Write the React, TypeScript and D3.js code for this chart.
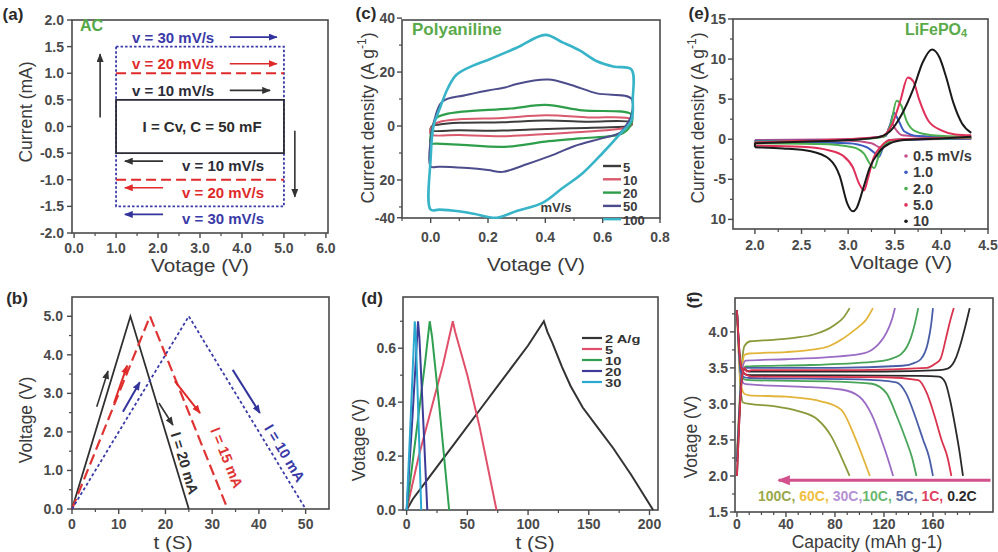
import React from "react";
import * as d3 from "d3";

type Pt = [number, number];

const FONT = "'Liberation Sans', Arial, Helvetica, sans-serif";
const AX = "#4a4a4a";
const TXT = "#3a3a3a";

/* ---------- (a) AC capacitor CV ---------- */
const aXTicks = [0, 1, 2, 3, 4, 5, 6];
const aXLabels = ["0.0", "1.0", "2.0", "3.0", "4.0", "5.0", "6.0"];
const aYTicks = [2, 1.5, 1, 0.5, 0, -0.5, -1, -1.5, -2];
const aYLabels = ["2.0", "1.5", "1.0", "0.5", "0.0", "-0.5", "-1.0", "-1.5", "-2.0"];
const aSweep = [1.0, 5.0];
const aScanRates = ["10", "20", "30"];
const aCurrents = [0.5, 1.0, 1.5];

/* ---------- (b) AC capacitor GCD ---------- */
const bXTicks = [0, 10, 20, 30, 40, 50];
const bYTicks = [0, 1, 2, 3, 4, 5];
const bYLabels = ["0.0", "1.0", "2.0", "3.0", "4.0", "5.0"];
const bCurrents = ["20", "15", "10"];
const bPeakTimes = [12.5, 16.7, 25];
const bEndTimes = [25, 33.3, 50];
const bVmax = 5;

/* ---------- (c) Polyaniline CV ---------- */
const cXTicks = [0, 0.2, 0.4, 0.6, 0.8];
const cXLabels = ["0.0", "0.2", "0.4", "0.6", "0.8"];
const cYTicks = [40, 20, 0, -20, -34];
const cYLabels = ["40", "20", "0", "20", "-40"];
const cRates = ["5", "10", "20", "50", "100"];
const cCV5: Pt[] = [[0.0, -1.5], [0.005, 0], [0.03, 0.6], [0.1, 1.2], [0.25, 1.4], [0.4, 2.0], [0.55, 1.6], [0.7, 1.3], [0.7, 0.2], [0.68, -0.2], [0.5, -0.8], [0.35, -1.3], [0.25, -1.7], [0.1, -1.6]];
const cCV10: Pt[] = [[0.0, -3], [0.005, 0], [0.03, 1.5], [0.1, 2.5], [0.25, 3], [0.4, 4], [0.55, 3.2], [0.7, 2.5], [0.7, 0.5], [0.67, -0.8], [0.55, -2], [0.4, -3], [0.25, -3.8], [0.1, -3.3]];
const cCV20: Pt[] = [[0.0, -6.4], [0.005, -1], [0.02, 3], [0.05, 4.3], [0.11, 5.3], [0.28, 6.5], [0.4, 7.8], [0.53, 5.8], [0.7, 4.3], [0.7, 1], [0.67, -2.7], [0.52, -4.6], [0.4, -5.8], [0.26, -7.7], [0.11, -7], [0.02, -6.5]];
const cCV50: Pt[] = [[0.0, -15], [0.0, -5], [0.01, 1], [0.04, 9], [0.12, 11.4], [0.2, 13.2], [0.26, 14.3], [0.3, 15.6], [0.41, 17.2], [0.49, 15.2], [0.58, 12.1], [0.7, 10.2], [0.7, 4], [0.68, 0], [0.66, -2.5], [0.6, -4.5], [0.5, -7.5], [0.42, -11], [0.34, -14], [0.25, -17], [0.2, -16.3], [0.13, -15.6], [0.03, -15.1]];
const cCV100: Pt[] = [[0.0, -31], [0.0, -12], [0.01, 0], [0.03, 6], [0.06, 14], [0.09, 19], [0.15, 22.5], [0.2, 24.5], [0.3, 29], [0.4, 33.8], [0.46, 31], [0.52, 28], [0.58, 24], [0.64, 22], [0.7, 21], [0.705, 10], [0.7, 2], [0.66, -3], [0.6, -10], [0.53, -17.5], [0.46, -23], [0.39, -28.5], [0.3, -31.5], [0.23, -34], [0.15, -32.5], [0.09, -31.5], [0.03, -31]];

/* ---------- (d) Polyaniline GCD ---------- */
const dXTicks = [0, 50, 100, 150, 200];
const dYTicks = [0, 0.2, 0.4, 0.6];
const dYLabels = ["0.0", "0.2", "0.4", "0.6"];
const dRates = ["2 A/g", "5", "10", "20", "30"];
const dGCD2: Pt[] = [[0, 0], [5, 0.04], [20, 0.13], [40, 0.25], [60, 0.37], [80, 0.49], [100, 0.61], [113, 0.7], [116, 0.66], [120, 0.62], [128, 0.53], [135, 0.46], [145, 0.38], [160, 0.29], [170, 0.23], [185, 0.13], [203, 0]];
const dGCD5: Pt[] = [[0, 0], [3, 0.06], [10, 0.2], [20, 0.37], [30, 0.54], [38, 0.7], [40, 0.66], [50, 0.5], [60, 0.31], [74, 0]];
const dGCD10: Pt[] = [[0, 0], [5, 0.18], [10, 0.36], [15, 0.54], [19, 0.7], [21, 0.64], [27, 0.38], [35, 0]];
const dGCD20: Pt[] = [[0, 0], [5, 0.36], [9.4, 0.7], [10.5, 0.64], [14, 0.3], [17, 0]];
const dGCD30: Pt[] = [[0, 0], [3.5, 0.36], [6.7, 0.7], [7.6, 0.64], [10, 0.3], [12, 0]];

/* ---------- (e) LiFePO4 CV ---------- */
const eXTicks = [2.0, 2.5, 3.0, 3.5, 4.0, 4.5];
const eXLabels = ["2.0", "2.5", "3.0", "3.5", "4.0", "4.5"];
const eYTicks = [15, 10, 5, 0, -5, -10];
const eYLabels = ["15", "10", "5", "0", "-5", "10"];
const eRates = ["0.5 mV/s", "1.0", "2.0", "5.0", "10"];
const eAno05: Pt[] = [[2.0, -0.1], [3.0, 0], [3.4, 0.4], [3.44, 1.5], [3.47, 2.0], [3.5, 1.4], [3.58, 0.5], [4.32, 0.1]];
const eCat05: Pt[] = [[2.0, -0.2], [3.0, -0.2], [3.25, -0.5], [3.33, -1.0], [3.37, -1.2], [3.4, -0.6], [3.45, -0.1], [4.32, 0.05]];
const eAno1: Pt[] = [[2.0, -0.2], [3.0, -0.05], [3.4, 0.4], [3.45, 1.8], [3.49, 3.3], [3.53, 2.6], [3.6, 1.0], [3.75, 0.4], [4.32, 0.2]];
const eCat1: Pt[] = [[2.0, -0.3], [3.0, -0.5], [3.2, -1.0], [3.29, -1.8], [3.33, -2.2], [3.38, -0.8], [3.45, -0.1], [4.32, 0.1]];
const eAno2: Pt[] = [[2.0, -0.3], [3.0, -0.1], [3.38, 0.3], [3.46, 2.0], [3.52, 4.8], [3.57, 4.2], [3.63, 2.2], [3.72, 1.0], [3.9, 0.5], [4.32, 0.3]];
const eCat2: Pt[] = [[2.0, -0.5], [2.7, -0.6], [3.05, -1.0], [3.17, -1.8], [3.23, -3.0], [3.28, -3.6], [3.33, -2.0], [3.4, -0.6], [3.5, -0.1], [4.32, 0.15]];
const eAno5: Pt[] = [[2.0, -0.4], [2.5, -0.2], [3.0, 0], [3.35, 0.3], [3.47, 1.8], [3.56, 4.8], [3.64, 7.7], [3.7, 7.2], [3.76, 5.0], [3.86, 2.3], [4.0, 1.1], [4.15, 0.6], [4.32, 0.5]];
const eCat5: Pt[] = [[2.0, -0.8], [2.5, -0.95], [2.8, -1.4], [2.95, -2.1], [3.05, -3.5], [3.12, -5.6], [3.17, -6.4], [3.21, -5.0], [3.27, -2.4], [3.36, -0.8], [3.45, -0.1], [3.8, 0.1], [4.32, 0.25]];
const eAno10: Pt[] = [[2.0, -0.5], [2.5, -0.3], [3.0, -0.1], [3.3, 0.2], [3.45, 1.0], [3.58, 3.2], [3.7, 6.3], [3.8, 9.6], [3.9, 11.2], [3.98, 10.2], [4.05, 7.8], [4.13, 4.5], [4.22, 2.0], [4.32, 0.8]];
const eCat10: Pt[] = [[2.0, -1.0], [2.3, -1.15], [2.6, -1.5], [2.8, -2.5], [2.91, -4.6], [2.99, -8.0], [3.05, -9.0], [3.09, -8.6], [3.16, -6.2], [3.23, -3.6], [3.33, -1.6], [3.45, -0.5], [3.6, -0.1], [4.0, 0.1], [4.32, 0.3]];

/* ---------- (f) LiFePO4 charge/discharge ---------- */
const fXTicks = [0, 40, 80, 120, 160];
const fYTicks = [1.5, 2.0, 2.5, 3.0, 3.5, 4.0];
const fYLabels = ["1.5", "2.0", "2.5", "3.0", "3.5", "4.0"];
const fRates = ["100C", "60C", "30C", "10C", "5C", "1C", "0.2C"];
const fCh100: Pt[] = [[0, 2.3], [2, 3.0], [4, 3.55], [6, 3.8], [11, 3.87], [30, 3.89], [48, 3.92], [62, 3.96], [72, 4.02], [80, 4.1], [87, 4.2], [92, 4.33]];
const fDis100: Pt[] = [[0, 4.3], [1.5, 3.7], [3, 3.2], [5, 3.02], [10, 3.0], [30, 2.97], [50, 2.9], [66, 2.78], [77, 2.55], [85, 2.27], [92, 2.0]];
const fCh60: Pt[] = [[0, 2.2], [2, 2.9], [4, 3.45], [6, 3.68], [10, 3.7], [40, 3.72], [60, 3.75], [75, 3.8], [86, 3.9], [94, 4.0], [100, 4.08], [105, 4.16], [111, 4.33]];
const fDis60: Pt[] = [[0, 4.3], [1.5, 3.7], [3, 3.3], [6, 3.14], [10, 3.12], [40, 3.1], [70, 3.03], [85, 2.92], [96, 2.55], [103, 2.25], [108.5, 2.0]];
const fCh30: Pt[] = [[0, 2.2], [2, 2.9], [4, 3.45], [7, 3.6], [40, 3.62], [75, 3.65], [100, 3.69], [110, 3.75], [115, 3.82], [120, 3.93], [124, 4.06], [127, 4.2], [129, 4.33]];
const fDis30: Pt[] = [[0, 4.3], [1.5, 3.8], [3, 3.4], [6, 3.28], [10, 3.27], [50, 3.24], [85, 3.2], [100, 3.1], [110, 2.85], [118, 2.5], [123, 2.25], [127.5, 2.0]];
const fCh10: Pt[] = [[0, 2.2], [2, 2.9], [4, 3.4], [7, 3.52], [60, 3.54], [115, 3.59], [128, 3.64], [134, 3.69], [139, 3.8], [142, 3.92], [145, 4.1], [148, 4.33]];
const fDis10: Pt[] = [[0, 4.3], [1.5, 3.8], [3, 3.45], [6, 3.34], [10, 3.33], [80, 3.31], [110, 3.28], [122, 3.15], [130, 2.85], [138, 2.5], [143, 2.25], [146.5, 2.0]];
const fCh5: Pt[] = [[0, 2.2], [2, 2.9], [4, 3.4], [7, 3.5], [80, 3.5], [135, 3.53], [145, 3.57], [150, 3.62], [156, 3.86], [158.5, 4.1], [160, 4.33]];
const fDis5: Pt[] = [[0, 4.3], [1.5, 3.8], [3, 3.45], [6, 3.37], [10, 3.36], [100, 3.34], [130, 3.3], [138, 3.15], [145, 2.85], [152, 2.5], [157, 2.25], [160, 2.0]];
const fCh1: Pt[] = [[0, 2.0], [2, 2.8], [4, 3.35], [6, 3.5], [8, 3.45], [12, 3.47], [100, 3.47], [155, 3.5], [162, 3.56], [166, 3.62], [171, 3.94], [174, 4.15], [177, 4.33]];
const fDis1: Pt[] = [[0, 4.3], [1.5, 3.85], [3, 3.55], [5, 3.45], [8, 3.4], [12, 3.38], [120, 3.37], [148, 3.33], [155, 3.15], [161, 2.85], [167, 2.5], [172, 2.25], [175, 2.0]];
const fCh02: Pt[] = [[0, 2.0], [2, 2.8], [4, 3.35], [6, 3.48], [10, 3.45], [120, 3.45], [165, 3.47], [172, 3.49], [176, 3.55], [179, 3.65], [182, 3.8], [186, 4.05], [190, 4.33]];
const fDis02: Pt[] = [[0, 4.3], [1.5, 3.85], [3, 3.55], [6, 3.42], [10, 3.4], [150, 3.39], [165, 3.38], [170, 3.3], [174, 3.05], [178, 2.7], [182, 2.3], [184.5, 2.0]];

type Lin = d3.ScaleLinear<number, number>;

function Axes(props: {
  xs: Lin; ys: Lin;
  xTicks: number[]; xLabels: string[]; xMinor: number[];
  yTicks: number[]; yLabels: string[]; yMinor: number[];
  yGap?: number; xGap?: number;
}) {
  const { xs, ys, xTicks, xLabels, xMinor, yTicks, yLabels, yMinor } = props;
  const yGap = props.yGap ?? 8;
  const xGap = props.xGap ?? 17;
  const [x0, x1] = xs.range();
  const [y0, y1] = ys.range();
  return (
    <g>
      {xMinor.map((t, i) => (
        <line key={"xm" + i} x1={xs(t)} x2={xs(t)} y1={y0} y2={y0 + 3} stroke={AX} strokeWidth={1.2} />
      ))}
      {yMinor.map((t, i) => (
        <line key={"ym" + i} x1={x0} x2={x0 - 3} y1={ys(t)} y2={ys(t)} stroke={AX} strokeWidth={1.2} />
      ))}
      {xTicks.map((t, i) => (
        <g key={"xt" + i}>
          <line x1={xs(t)} x2={xs(t)} y1={y0} y2={y0 + 5} stroke={AX} strokeWidth={1.4} />
          <text x={xs(t)} y={y0 + xGap} textAnchor="middle" dominantBaseline="central" fontSize={14} fontWeight="bold" fill="#4a4a4a">{xLabels[i]}</text>
        </g>
      ))}
      {yTicks.map((t, i) => (
        <g key={"yt" + i}>
          <line x1={x0} x2={x0 - 5} y1={ys(t)} y2={ys(t)} stroke={AX} strokeWidth={1.4} />
          <text x={x0 - yGap} y={ys(t)} textAnchor="end" dominantBaseline="central" fontSize={14} fontWeight="bold" fill="#4a4a4a">{yLabels[i]}</text>
        </g>
      ))}
      <rect x={x0} y={y1} width={x1 - x0} height={y0 - y1} fill="none" stroke={AX} strokeWidth={1.6} />
    </g>
  );
}

const ARROW_COLORS: Record<string, string> = {
  k: "#333333", r: "#e02a2a", b: "#33339c", p: "#d2508c",
};

function Arrow({ x1, y1, x2, y2, c, w = 1.6 }: { x1: number; y1: number; x2: number; y2: number; c: string; w?: number }) {
  return <line x1={x1} y1={y1} x2={x2} y2={y2} stroke={ARROW_COLORS[c]} strokeWidth={w} markerEnd={`url(#ah-${c})`} />;
}

function YTitle({ x, y, children }: { x: number; y: number; children: React.ReactNode }) {
  return (
    <text transform={`translate(${x},${y}) rotate(-90)`} textAnchor="middle" dominantBaseline="central" fontSize={17.5} fill={TXT}>{children}</text>
  );
}

function XTitle({ x, y, sx = 1.12, fs = 18.5, children }: { x: number; y: number; sx?: number; fs?: number; children: React.ReactNode }) {
  return <text transform={`translate(${x},${y}) scale(${sx},1)`} textAnchor="middle" dominantBaseline="central" fontSize={fs} fill={TXT}>{children}</text>;
}

function PanelLabel({ x, y, t, rot = false }: { x: number; y: number; t: string; rot?: boolean }) {
  return (
    <text transform={`translate(${x},${y})${rot ? " rotate(-90)" : ""}`} textAnchor="middle" dominantBaseline="central" fontSize={17} fontWeight="bold" fill="#2a2a2a">{t}</text>
  );
}

function lineGen(xs: Lin, ys: Lin, curve: d3.CurveFactory = d3.curveLinear) {
  return d3.line<Pt>().x((d) => xs(d[0])).y((d) => ys(d[1])).curve(curve);
}

export default function App() {
  /* scales */
  const xa = d3.scaleLinear().domain([-0.05, 6.05]).range([72, 328]);
  const ya = d3.scaleLinear().domain([-2, 2]).range([233, 20]);
  const xb = d3.scaleLinear().domain([0, 55]).range([72, 329]);
  const yb = d3.scaleLinear().domain([0, 5.5]).range([509, 297]);
  const xc = d3.scaleLinear().domain([-0.1, 0.8]).range([402, 660]);
  const yc = d3.scaleLinear().domain([-34.1, 39.3]).range([218, 20]);
  const xd = d3.scaleLinear().domain([-3, 207]).range([403, 658]);
  const yd = d3.scaleLinear().domain([0, 0.79]).range([510, 297]);
  const xe = d3.scaleLinear().domain([1.765, 4.5]).range([733, 988]);
  const ye = d3.scaleLinear().domain([-11.2, 15]).range([229, 19]);
  const xf = d3.scaleLinear().domain([-1.6, 209]).range([735, 993]);
  const yf = d3.scaleLinear().domain([1.5, 4.47]).range([512, 298]);

  /* (a) */
  const aCol = ["#2c2c38", "#e02a2a", "#3a3aa8"];
  const [v0, v1] = aSweep;

  /* (b) */
  const lb = lineGen(xb, yb);
  const bCol = ["#303030", "#e03434", "#3a3aa8"];
  const bDash = ["none", "11 5", "3 2.5"];
  const bTri = bCurrents.map((_, i) => [[0, 0], [bPeakTimes[i], bVmax], [bEndTimes[i], 0]] as Pt[]);
  const bRot = bTri.map(([, p, e]) => (Math.atan2(yb(e[1]) - yb(p[1]), xb(e[0]) - xb(p[0])) * 180) / Math.PI);
  const bLabelPos: Pt[] = [[24.1, 1.19], [33.1, 1.33], [45.5, 1.45]];

  /* (c) */
  const lc = lineGen(xc, yc, d3.curveCatmullRomClosed.alpha(0.5));
  const cSeries = [cCV5, cCV10, cCV20, cCV50, cCV100];
  const cCol = ["#3c3c3c", "#d85a6c", "#2e9e4a", "#4c4c8c", "#38b4c8"];
  const cW = [2, 2, 2.2, 2, 2.6];

  /* (d) */
  const ld = lineGen(xd, yd);
  const dSeries = [dGCD2, dGCD5, dGCD10, dGCD20, dGCD30];
  const dCol = ["#333333", "#e0506a", "#2ea050", "#3c3c98", "#2aa8d0"];

  /* (e) */
  const le = lineGen(xe, ye, d3.curveMonotoneX);
  const eSeries: [Pt[], Pt[]][] = [[eAno05, eCat05], [eAno1, eCat1], [eAno2, eCat2], [eAno5, eCat5], [eAno10, eCat10]];
  const eCol = ["#c2508a", "#3a5cc0", "#4cb050", "#e0305a", "#1a1a1a"];

  /* (f) */
  const lf = lineGen(xf, yf, d3.curveMonotoneX);
  const fSeries: [Pt[], Pt[]][] = [[fCh100, fDis100], [fCh60, fDis60], [fCh30, fDis30], [fCh10, fDis10], [fCh5, fDis5], [fCh1, fDis1], [fCh02, fDis02]];
  const fCol = ["#8a9a3a", "#e2b43a", "#9a6cc4", "#48a458", "#4a5ea8", "#d9344f", "#2a2a2a"];
  const fLegendCol = ["#9aa84a", "#f0c040", "#b492d4", "#6ab870", "#6070a8", "#e04060", "#2a2a2a"];
  const fDrawOrder = [0, 1, 2, 3, 4, 6, 5];

  return (
    <svg width={998} height={552} style={{ position: "absolute", left: 0, top: 0, background: "#fff" }} fontFamily={FONT}>
      <defs>
        {Object.entries(ARROW_COLORS).map(([k, c]) => (
          <marker key={k} id={`ah-${k}`} viewBox="0 0 10 8" refX={9} refY={4} markerWidth={k === "p" ? 13 : 9} markerHeight={k === "p" ? 10 : 7} markerUnits="userSpaceOnUse" orient="auto">
            <path d="M0,0 L10,4 L0,8 z" fill={c} />
          </marker>
        ))}
      </defs>
      <rect x={0} y={0} width={998} height={552} fill="#fff" />

      {/* ================= (a) ================= */}
      <Axes xs={xa} ys={ya} xTicks={aXTicks} xLabels={aXLabels} xMinor={d3.range(0.5, 6, 1)}
        yTicks={aYTicks} yLabels={aYLabels} yMinor={[]} yGap={8} xGap={15} />
      <rect x={xa(v0)} y={ya(aCurrents[2])} width={xa(v1) - xa(v0)} height={ya(-aCurrents[2]) - ya(aCurrents[2])}
        fill="none" stroke={aCol[2]} strokeWidth={1.8} strokeDasharray="2.5 2" />
      {[1, -1].map((s) => (
        <line key={s} x1={xa(v0)} x2={xa(v1)} y1={ya(s * aCurrents[1])} y2={ya(s * aCurrents[1])}
          stroke={aCol[1]} strokeWidth={2} strokeDasharray="10 5" />
      ))}
      <rect x={xa(v0)} y={ya(aCurrents[0])} width={xa(v1) - xa(v0)} height={ya(-aCurrents[0]) - ya(aCurrents[0])}
        fill="none" stroke={aCol[0]} strokeWidth={1.8} />
      {aScanRates.map((r, i) => (
        <g key={r} fontSize={15} fontWeight="bold" fill={aCol[i]}>
          <text x={xa(1.38)} y={ya(aCurrents[i]) - 9.5} dominantBaseline="central">{`v = ${r} mV/s`}</text>
          <Arrow x1={xa(3.71)} x2={xa(i === 0 ? 4.67 : 4.83)} y1={ya(aCurrents[i]) - 9.5} y2={ya(aCurrents[i]) - 9.5} c={["k", "r", "b"][i]} />
          <text x={xa(2.57)} y={ya(-aCurrents[i]) + 12.5} dominantBaseline="central">{`v = ${r} mV/s`}</text>
          <Arrow x1={xa(2.12)} x2={xa(1.21)} y1={ya(-aCurrents[i]) + 8} y2={ya(-aCurrents[i]) + 8} c={["k", "r", "b"][i]} />
        </g>
      ))}
      <text x={xa(3.05)} y={ya(0)} textAnchor="middle" dominantBaseline="central" fontSize={15} fontWeight="bold" fill="#2c2c2c">I = Cv, C = 50 mF</text>
      <Arrow x1={xa(0.62)} x2={xa(0.62)} y1={ya(0.17)} y2={ya(1.36)} c="k" />
      <Arrow x1={xa(5.26)} x2={xa(5.26)} y1={ya(-0.08)} y2={ya(-1.32)} c="k" />
      <text x={80} y={25} dominantBaseline="central" fontSize={16} fontWeight="bold" fill="#55a845">AC</text>
      <XTitle x={200} y={265}>Votage (V)</XTitle>
      <YTitle x={26} y={112}>Current (mA)</YTitle>
      <PanelLabel x={13} y={14} t="(a)" />

      {/* ================= (b) ================= */}
      <Axes xs={xb} ys={yb} xTicks={bXTicks} xLabels={bXTicks.map(String)} xMinor={d3.range(5, 55, 10)}
        yTicks={bYTicks} yLabels={bYLabels} yMinor={d3.range(0.5, 5.5, 1)} yGap={9} xGap={15} />
      {bTri.map((pts, i) => (
        <path key={i} d={lb(pts) ?? ""} fill="none" stroke={bCol[i]} strokeWidth={i === 1 ? 2.2 : 1.8} strokeDasharray={bDash[i]} />
      ))}
      <Arrow x1={xb(5.3)} y1={yb(2.65)} x2={xb(7.7)} y2={yb(3.58)} c="k" />
      <Arrow x1={xb(9.0)} y1={yb(2.75)} x2={xb(11.8)} y2={yb(3.72)} c="r" w={2} />
      <Arrow x1={xb(10.9)} y1={yb(2.52)} x2={xb(14.5)} y2={yb(3.29)} c="b" w={2} />
      <Arrow x1={xb(18.6)} y1={yb(2.75)} x2={xb(21.6)} y2={yb(2.18)} c="k" />
      <Arrow x1={xb(22.0)} y1={yb(3.32)} x2={xb(27.4)} y2={yb(2.49)} c="r" w={2} />
      <Arrow x1={xb(34.4)} y1={yb(3.61)} x2={xb(40.2)} y2={yb(2.49)} c="b" w={2} />
      {bCurrents.map((c, i) => (
        <text key={c} transform={`translate(${xb(bLabelPos[i][0])},${yb(bLabelPos[i][1])}) rotate(${bRot[i]})`}
          textAnchor="middle" dominantBaseline="central" fontSize={14.5} fontWeight="bold" fill={bCol[i]}>{`I = ${c} mA`}</text>
      ))}
      <XTitle x={173} y={542}>t (S)</XTitle>
      <YTitle x={26} y={420}>Voltage (V)</YTitle>
      <PanelLabel x={17} y={298} t="(b)" />

      {/* ================= (c) ================= */}
      <Axes xs={xc} ys={yc} xTicks={cXTicks} xLabels={cXLabels} xMinor={d3.range(-0.1, 0.8, 0.2)}
        yTicks={cYTicks} yLabels={cYLabels} yMinor={[30, 10, -10, -30]} yGap={7} xGap={19} />
      {cSeries.map((s, i) => (
        <path key={i} d={lc(s) ?? ""} fill="none" stroke={cCol[i]} strokeWidth={cW[i]} />
      ))}
      <text x={412} y={29} dominantBaseline="central" fontSize={17} fontWeight="bold" fill="#5aaa4a">Polyaniline</text>
      {cRates.map((r, i) => (
        <g key={r}>
          <line x1={603} x2={621} y1={166 + i * 13.3} y2={166 + i * 13.3} stroke={cCol[i]} strokeWidth={2.4} />
          <text x={623} y={167 + i * 13.3} dominantBaseline="central" fontSize={13} fontWeight="bold" fill="#3a3a3a">{r}</text>
        </g>
      ))}
      <text x={556} y={207} textAnchor="middle" dominantBaseline="central" fontSize={13} fontWeight="bold" fill="#3a3a3a">mV/s</text>
      <XTitle x={536} y={264}>Votage (V)</XTitle>
      <YTitle x={368} y={118}>Current density (A g<tspan dy={-6} fontSize={12}>-1</tspan><tspan dy={6}>)</tspan></YTitle>
      <PanelLabel x={366} y={13} t="(c)" />

      {/* ================= (d) ================= */}
      <Axes xs={xd} ys={yd} xTicks={dXTicks} xLabels={dXTicks.map(String)} xMinor={d3.range(25, 207, 50)}
        yTicks={dYTicks} yLabels={dYLabels} yMinor={[0.1, 0.3, 0.5, 0.7]} yGap={7} xGap={14} />
      {dSeries.map((s, i) => (
        <path key={i} d={ld(s) ?? ""} fill="none" stroke={dCol[i]} strokeWidth={2} />
      ))}
      {dRates.map((r, i) => (
        <g key={r}>
          <line x1={582} x2={602} y1={338 + i * 11} y2={338 + i * 11} stroke={dCol[i]} strokeWidth={2.2} />
          <text transform={`translate(605,${339 + i * 11}) scale(1.4,1)`} dominantBaseline="central" fontSize={10.5} fontWeight="bold" fill="#333">{r}</text>
        </g>
      ))}
      <XTitle x={535} y={542}>t (S)</XTitle>
      <YTitle x={359} y={440}>Votage (V)</YTitle>
      <PanelLabel x={372} y={298} t="(d)" />

      {/* ================= (e) ================= */}
      <Axes xs={xe} ys={ye} xTicks={eXTicks} xLabels={eXLabels} xMinor={d3.range(2.25, 4.5, 0.5)}
        yTicks={eYTicks} yLabels={eYLabels} yMinor={[12.5, 7.5, 2.5, -2.5, -7.5]} yGap={7} xGap={16} />
      {eSeries.map(([an, ca], i) => (
        <g key={i} fill="none" stroke={eCol[i]} strokeWidth={2}>
          <path d={le(an) ?? ""} />
          <path d={le(ca) ?? ""} />
          <line x1={xe(an[0][0])} x2={xe(ca[0][0])} y1={ye(an[0][1])} y2={ye(ca[0][1])} />
        </g>
      ))}
      <text x={905} y={29} dominantBaseline="central" fontSize={16} fontWeight="bold" fill="#5aaa4a">LiFePO<tspan dy={4} fontSize={11}>4</tspan></text>
      {eRates.map((r, i) => (
        <g key={r}>
          <circle cx={906} cy={156 + i * 16.3} r={1.8} fill={eCol[i]} />
          <text x={913} y={156 + i * 16.3} dominantBaseline="central" fontSize={14.5} fontWeight="bold" fill="#3a3a3a">{r}</text>
        </g>
      ))}
      <XTitle x={901} y={262}>Voltage (V)</XTitle>
      <YTitle x={698} y={118}>Current density (A g<tspan dy={-6} fontSize={12}>-1</tspan><tspan dy={6}>)</tspan></YTitle>
      <PanelLabel x={699} y={13} t="(e)" />

      {/* ================= (f) ================= */}
      <Axes xs={xf} ys={yf} xTicks={fXTicks} xLabels={fXTicks.map(String)} xMinor={d3.range(10, 200, 10).filter((v) => v % 40 !== 0)}
        yTicks={fYTicks} yLabels={fYLabels} yMinor={[1.75, 2.25, 2.75, 3.25, 3.75, 4.25]} yGap={7} xGap={12} />
      {fDrawOrder.map((i) => (
        <g key={i} fill="none" stroke={fCol[i]} strokeWidth={1.8}>
          <path d={lf(fSeries[i][0]) ?? ""} />
          <path d={lf(fSeries[i][1]) ?? ""} />
        </g>
      ))}
      <Arrow x1={xf(207)} x2={xf(34)} y1={yf(1.94)} y2={yf(1.94)} c="p" w={3} />
      <text x={758} y={496} dominantBaseline="central" fontSize={14} fontWeight="bold">
        {fRates.map((r, i) => (
          <tspan key={r} fill={fLegendCol[i]}>{r}{i < fRates.length - 1 ? (i === 2 ? "," : ", ") : ""}</tspan>
        ))}
      </text>
      <XTitle x={867} y={542} sx={1} fs={17.5}>Capacity (mAh g-1)</XTitle>
      <YTitle x={691} y={437}>Votage (V)</YTitle>
      <PanelLabel x={693} y={300} t="(f)" rot />
    </svg>
  );
}
